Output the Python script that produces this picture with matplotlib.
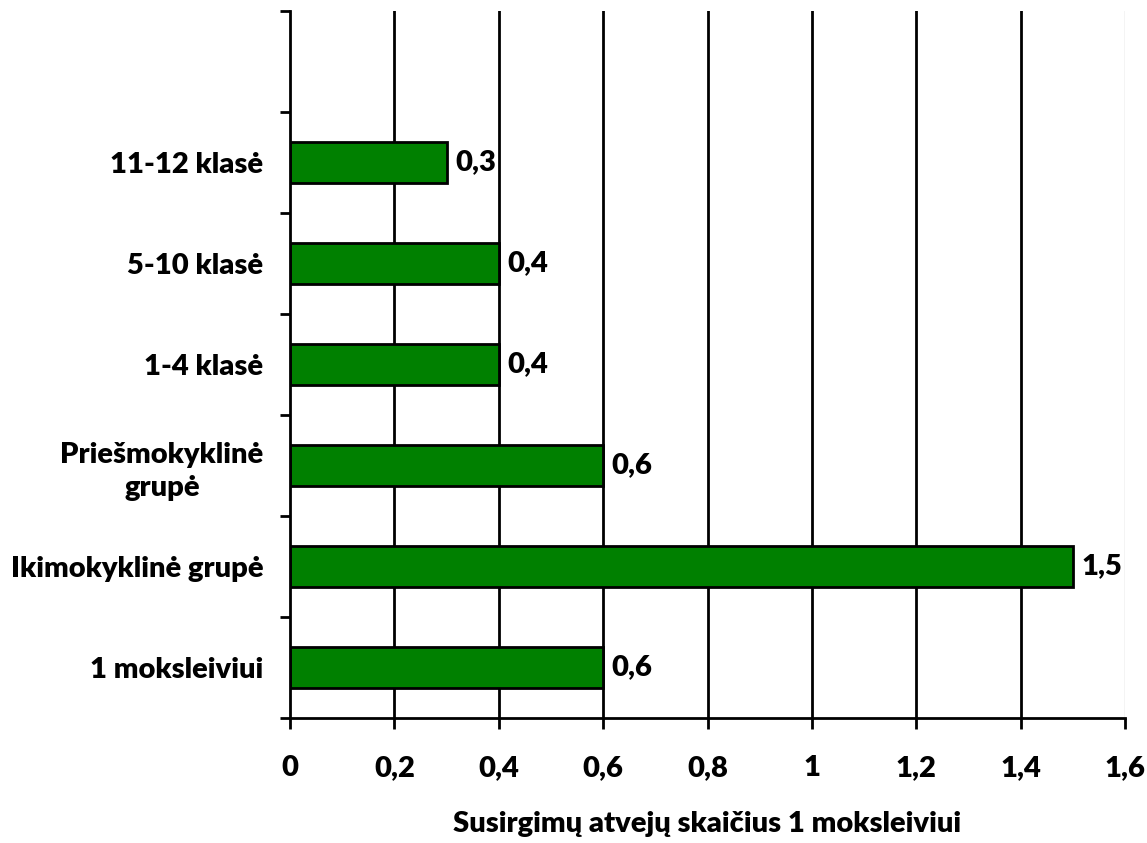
import matplotlib
matplotlib.use("Agg")
import matplotlib.pyplot as plt
from matplotlib.ticker import FixedLocator, FuncFormatter

plt.rcParams['font.family'] = ['Lato', 'DejaVu Sans']
plt.rcParams['font.weight'] = 'heavy'

# Data (bottom to top)
categories = ["1 moksleiviui", "Ikimokyklinė grupė", "Priešmokyklinė\ngrupė",
              "1-4 klasė", "5-10 klasė", "11-12 klasė"]
values = [0.6, 1.5, 0.6, 0.4, 0.4, 0.3]
x_ticks = [0, 0.2, 0.4, 0.6, 0.8, 1.0, 1.2, 1.4, 1.6]
x_label = "Susirgimų atvejų skaičius 1 moksleiviui"

n_slots = len(categories) + 1  # one empty slot on top
FS = 21
WEIGHT = "heavy"

fig = plt.figure(figsize=(11.47, 8.43), dpi=100)
ax = fig.add_axes([290 / 1147, 1 - 718 / 843, (1125 - 290) / 1147, (718 - 11) / 843])

positions = [i + 0.5 for i in range(len(categories))]
ax.barh(positions, values, height=0.4, color="#008000", edgecolor="black",
        linewidth=2, zorder=3)

def fmt(v):
    s = f"{v:.1f}".rstrip("0").rstrip(".") if v != 0 else "0"
    return s.replace(".", ",")

for y, v in zip(positions, values):
    ax.text(v + 0.016, y, fmt(v), va="center", ha="left", fontsize=FS,
            fontweight=WEIGHT, zorder=4)

ax.set_xlim(0, 1.6)
ax.set_ylim(0, n_slots)

# x axis
ax.set_xticks(x_ticks)
ax.xaxis.set_major_formatter(FuncFormatter(lambda v, p: fmt(round(v, 1))))
ax.tick_params(axis="x", direction="out", length=8, width=2, pad=19,
               labelsize=FS)
for lbl in ax.get_xticklabels():
    lbl.set_fontweight(WEIGHT)

# vertical gridlines
for xv in x_ticks[1:-1]:
    ax.axvline(xv, color="black", linewidth=2, zorder=1)
ax.axvline(x_ticks[-1], color="#c8c8c8", linewidth=1, zorder=1)

# y axis: ticks at slot boundaries, labels at slot centres
ax.yaxis.set_major_locator(FixedLocator(range(n_slots + 1)))
ax.yaxis.set_major_formatter(FuncFormatter(lambda v, p: ""))
ax.yaxis.set_minor_locator(FixedLocator(positions))
ax.set_yticklabels(categories, minor=True, fontsize=FS, fontweight=WEIGHT,
                   multialignment="center", linespacing=1.35)
ax.tick_params(axis="y", which="major", direction="out", length=7, width=2)
ax.tick_params(axis="y", which="minor", length=0, pad=19)

for side in ["top", "right"]:
    ax.spines[side].set_visible(False)
for side in ["left", "bottom"]:
    ax.spines[side].set_linewidth(2)
    ax.spines[side].set_zorder(5)

ax.set_xlabel(x_label, fontsize=FS, fontweight=WEIGHT, labelpad=21)

fig.savefig("out.png", dpi=100)
